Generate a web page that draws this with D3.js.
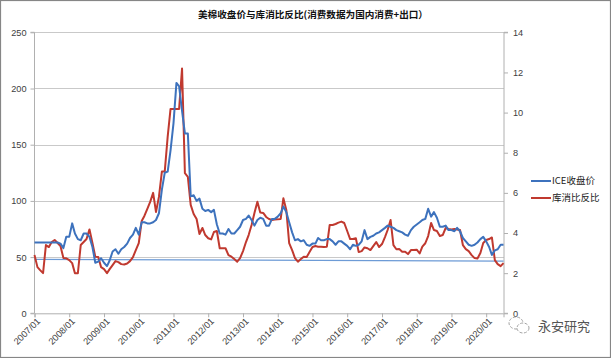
<!DOCTYPE html>
<html><head><meta charset="utf-8">
<script src="https://cdn.jsdelivr.net/npm/d3@7"></script>
<style>body{margin:0;background:#fff} svg{display:block}</style>
</head><body><svg id="c" width="611" height="358"></svg>
<script>
const title = "美棉收盘价与库消比反比(消费数据为国内消费+出口）";
const seriesNames = ["ICE收盘价", "库消比反比"];
const startMonth = "2007-01";
const endMonth = "2020-07";
// ICE close (left axis), monthly from 2007/01
const iceClose = [
  63,63,63,63,63,63,63,63,63,62,58,68,
  68,80,71,66,65,71,71,68,59,45,46,49,
  45,42,47,55,57,53,57,59,62,67,70,76,
  70,81,81,80,80,81,83,89,110,125,126,145,
  169,205,202,180,160,160,104,105,100,102,93,91,
  92,90,92,79,71,71,70,75,71,71,74,77,
  83,84,87,83,78,83,85,84,78,78,84,84,
  86,89,95,90,81,72,65,66,64,65,61,60,
  62,62,67,65,65,66,66,64,61,64,64,62,
  60,57,61,60,61,64,74,66,68,69,71,72,
  74,76,78,77,76,74,73,72,70,69,74,77,
  79,81,83,84,93,86,90,85,77,77,78,74,
  74,73,76,73,67,64,61,60,61,63,66,68,
  64,59,52,56,57,61,61
];
// inverse stock-to-use ratio (right axis), monthly from 2007/01
const stockUseInv = [
  2.9,2.3,2.15,2.0,3.4,3.3,3.55,3.65,3.5,3.35,2.75,2.74,
  2.65,2.5,2.0,2.0,3.4,3.55,3.7,4.18,3.5,2.82,2.8,2.3,
  2.2,2.0,2.2,2.4,2.6,2.55,2.45,2.43,2.48,2.6,2.8,3.15,
  3.5,4.6,4.85,5.2,5.55,6.0,5.05,5.8,7.06,7.06,8.8,10.18,
  10.18,10.18,10.18,12.2,6.98,6.8,5.4,4.95,4.7,3.95,4.25,3.9,
  3.74,3.68,4.05,4.1,3.24,3.24,3.24,2.9,2.82,2.7,2.57,2.75,
  3.1,3.55,3.9,4.4,5.0,5.56,5.02,5.0,4.8,4.7,4.65,4.67,
  4.68,4.7,5.73,5.15,3.5,3.15,2.75,2.57,2.7,2.82,2.8,3.05,
  3.3,3.35,3.32,3.32,3.3,3.32,4.4,4.4,4.45,4.52,4.57,4.5,
  4.1,3.7,3.7,3.74,3.05,3.1,3.28,3.24,3.15,3.35,3.55,3.3,
  3.45,3.8,4.15,4.65,3.4,3.19,3.2,3.07,3.07,2.95,3.15,3.15,
  3.17,2.98,3.32,3.49,3.85,4.5,4.15,4.1,3.85,3.9,4.25,4.2,
  4.18,4.2,4.18,4.15,3.4,3.2,3.1,2.9,2.75,2.73,3.0,3.5,
  3.65,3.7,3.78,2.65,2.45,2.35,2.5
];
// reference line (left axis), value at first and last month
const refLine = [48, 46.5];
const leftTicks = [0, 50, 100, 150, 200, 250];
const rightTicks = [0, 2, 4, 6, 8, 10, 12, 14];
const xTickLabels = ["2007/01","2008/01","2009/01","2010/01","2011/01","2012/01","2013/01",
  "2014/01","2015/01","2016/01","2017/01","2018/01","2019/01","2020/01"];
const watermark = "永安研究";

const parse = d3.timeParse("%Y-%m");
const t0 = parse(startMonth);
const dates = iceClose.map((_, i) => d3.timeMonth.offset(t0, i));
const tickDates = xTickLabels.map(s => d3.timeParse("%Y/%m")(s));

const svg = d3.select("#c");
const L = 34.5, R = 503.5, T = 32.3, B = 313.3;
const x = d3.scaleTime().domain([t0, parse(endMonth)]).range([L, R]);
const yL = d3.scaleLinear().domain([0, 250]).range([B, T]);
const yR = d3.scaleLinear().domain([0, 14]).range([B, T]);

const numFont = "'Liberation Sans', Arial, sans-serif";
const cjkFont = "'Noto Sans CJK SC', 'Liberation Sans', sans-serif";

// frame
svg.append("rect").attr("x", 0.5).attr("y", 0.5).attr("width", 610).attr("height", 357)
  .attr("fill", "#fff").attr("stroke", "#868686").attr("stroke-width", 1.2);

// title
svg.append("text").attr("x", 313).attr("y", 17.5).attr("text-anchor", "middle")
  .attr("font-family", cjkFont).attr("font-weight", "bold").attr("font-size", 9.6)
  .attr("fill", "#111").text(title);

// gridlines
svg.append("g").selectAll("line").data(leftTicks.filter(d => d > 0)).join("line")
  .attr("x1", L).attr("x2", R + 0.5).attr("y1", d => Math.round(yL(d)) + 0.5).attr("y2", d => Math.round(yL(d)) + 0.5)
  .attr("stroke", "#c9c9c9").attr("stroke-width", 1);

// left axis
const gL = svg.append("g").attr("transform", `translate(${L},0)`)
  .call(d3.axisLeft(yL).tickValues(leftTicks).tickSize(4).tickPadding(4));
// right axis
const gR = svg.append("g").attr("transform", `translate(${R + 0.5},0)`)
  .call(d3.axisRight(yR).tickValues(rightTicks).tickSize(4).tickPadding(5));
// bottom axis
const gB = svg.append("g").attr("transform", `translate(0,${B})`)
  .call(d3.axisBottom(x).tickValues(tickDates).tickFormat((d, i) => xTickLabels[i]).tickSize(4).tickPadding(3));
gB.selectAll("text").attr("text-anchor", "end").attr("dx", "-0.2em").attr("dy", "0.35em")
  .attr("transform", "rotate(-45)");

[gL, gR, gB].forEach(g => {
  g.select(".domain").attr("stroke", "#b0b0b0");
  g.selectAll(".tick line").attr("stroke", "#b0b0b0");
  g.selectAll("text").attr("font-family", numFont).attr("font-size", 9.2).attr("fill", "#404040");
});
gL.select(".domain").attr("d", `M-4,${B}H0V${T}H-4`);
gR.select(".domain").attr("d", `M4,${B}H0V${T}H4`);

// reference line
const refData = [[dates[0], refLine[0]], [dates[dates.length - 1], refLine[1]]];
svg.append("path").datum(refData)
  .attr("d", d3.line().x(d => x(d[0])).y(d => yL(d[1])))
  .attr("fill", "none").attr("stroke", "#6d9bd6").attr("stroke-width", 1.3);

// series
svg.append("path").datum(stockUseInv)
  .attr("d", d3.line().x((d, i) => x(dates[i])).y(d => yR(d)))
  .attr("fill", "none").attr("stroke", "#c0392f").attr("stroke-width", 2).attr("stroke-linejoin", "round");
svg.append("path").datum(iceClose)
  .attr("d", d3.line().x((d, i) => x(dates[i])).y(d => yL(d)))
  .attr("fill", "none").attr("stroke", "#3d72bd").attr("stroke-width", 2).attr("stroke-linejoin", "round");

// legend
const legColors = ["#3d72bd", "#c0392f"];
const leg = svg.append("g");
seriesNames.forEach((n, i) => {
  const yy = 181 + i * 17;
  leg.append("line").attr("x1", 531).attr("x2", 551).attr("y1", yy).attr("y2", yy)
    .attr("stroke", legColors[i]).attr("stroke-width", 2);
  leg.append("text").attr("x", 552).attr("y", yy + 3.3).attr("font-family", cjkFont)
    .attr("font-size", 9.5).attr("fill", "#222").text(n);
});

// watermark
const wm = svg.append("g").attr("transform", "translate(518,325)");
wm.append("ellipse").attr("cx", -2).attr("cy", -2).attr("rx", 7).attr("ry", 6)
  .attr("fill", "none").attr("stroke", "#999").attr("stroke-width", 0.9).attr("stroke-dasharray", "3,1.5");
wm.append("ellipse").attr("cx", 5).attr("cy", 3).attr("rx", 6).attr("ry", 5)
  .attr("fill", "#fff").attr("stroke", "#999").attr("stroke-width", 0.9).attr("stroke-dasharray", "3,1.5");
svg.append("text").attr("x", 538).attr("y", 331).attr("font-family", cjkFont)
  .attr("font-size", 13).attr("fill", "#555").text(watermark);
</script></body></html>
